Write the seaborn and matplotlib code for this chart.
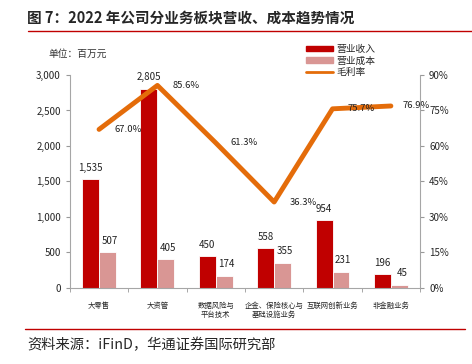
import numpy as np
import pandas as pd
import matplotlib
matplotlib.use("Agg")
import matplotlib.pyplot as plt
import seaborn as sns
from matplotlib.patches import Patch
from matplotlib.lines import Line2D
from matplotlib.ticker import FuncFormatter, FixedLocator

# -------------------------
# Data
# -------------------------
categories = ["大零售", "大资管", "数据风险与\n平台技术", "企金、保险核心与\n基础设施业务",
              "互联网创新业务", "非金融业务"]
revenue = [1535, 2805, 450, 558, 954, 196]
cost = [507, 405, 174, 355, 231, 45]
margin = [67.0, 85.6, 61.3, 36.3, 75.7, 76.9]

RED = "#C00000"
PINK = "#D99694"
ORANGE = "#E46C0A"

sns.set_style("white")
plt.rcParams["font.family"] = ["Noto Sans CJK SC", "DejaVu Sans"]

df = pd.DataFrame({
    "cat": categories * 2,
    "value": revenue + cost,
    "kind": ["营业收入"] * len(categories) + ["营业成本"] * len(categories),
})
line_df = pd.DataFrame({"pos": np.arange(len(categories)), "margin": margin})

fig = plt.figure(figsize=(4.72, 3.64), dpi=100)
ax = fig.add_axes([0.148, 0.209, 0.742, 0.585])

sns.barplot(data=df, x="cat", y="value", hue="kind", palette=[RED, PINK],
            saturation=1, width=0.58, edgecolor="white", linewidth=0.6,
            legend=False, ax=ax)

ax.set_ylim(0, 3000)
ax.set_xlim(-0.5, len(categories) - 0.5)
ax.yaxis.set_major_formatter(FuncFormatter(lambda v, p: f"{v:,.0f}"))
ax.set_yticks(np.arange(0, 3001, 500))
ax.set_xlabel("")
ax.set_ylabel("")
ax.tick_params(axis="y", labelsize=7, length=3, color="#999999", direction="out", left=True)
ax.tick_params(axis="x", which="major", length=0, labelsize=5.3, pad=10)
ax.xaxis.set_minor_locator(FixedLocator(np.arange(-0.5, len(categories), 1)))
ax.tick_params(axis="x", which="minor", length=3, color="#999999", bottom=True)
for s in ["left", "bottom"]:
    ax.spines[s].set_color("#A6A6A6")
ax.spines["top"].set_visible(False)
ax.spines["right"].set_visible(False)

# bar value labels
for i, cnt in enumerate(ax.containers):
    vals = revenue if i == 0 else cost
    for bar, v in zip(cnt, vals):
        x = bar.get_x() + bar.get_width() / 2
        dx = 0 if i == 0 else 0.04
        ax.text(x + dx, v + 90, f"{v:,}", ha="center", va="bottom", fontsize=7, color="#222222")

# margin line
ax2 = ax.twinx()
sns.lineplot(data=line_df, x="pos", y="margin", color=ORANGE, linewidth=3.5,
             solid_capstyle="round", ax=ax2)
ax2.set_ylim(0, 90)
ax2.set_yticks(np.arange(0, 91, 15))
ax2.yaxis.set_major_formatter(FuncFormatter(lambda v, p: f"{v:.0f}%"))
ax2.set_ylabel("")
ax2.tick_params(axis="y", labelsize=7, length=3, color="#999999", direction="out", right=True)
ax2.spines["right"].set_color("#A6A6A6")
for s in ["top", "left", "bottom"]:
    ax2.spines[s].set_visible(False)
ax2.set_xlim(-0.5, len(categories) - 0.5)

label_dx = [0.26, 0.26, 0.26, 0.26, 0.26, 0.2]
for (p, m), dx in zip(line_df.values, label_dx):
    ax2.text(p + dx, m, f"{m:.1f}%", ha="left", va="center", fontsize=6.8, color="#222222")

# legend
handles = [Patch(color=RED), Patch(color=PINK), Line2D([], [], color=ORANGE, linewidth=2)]
fig.legend(handles, ["营业收入", "营业成本", "毛利率"], loc="upper left",
           bbox_to_anchor=(0.635, 0.895), frameon=False, fontsize=7,
           handlelength=2.8, handleheight=0.5, labelspacing=0.15, handletextpad=0.4,
           borderpad=0.1)

# titles & notes
fig.text(0.057, 0.948, "图 7：2022 年公司分业务板块营收、成本趋势情况", fontsize=10.5,
         fontweight="bold", ha="left", va="center")
fig.add_artist(Line2D([0.06, 1.0], [0.915, 0.915], color=RED, linewidth=1))
fig.text(0.102, 0.851, "单位：百万元", fontsize=7, ha="left", va="center", color="#333333")
fig.add_artist(Line2D([0.053, 0.985], [0.096, 0.096], color=RED, linewidth=1))
fig.text(0.057, 0.052, "资料来源：iFinD，华通证券国际研究部", fontsize=10.3,
         ha="left", va="center")

plt.savefig("out.png", dpi=100)
